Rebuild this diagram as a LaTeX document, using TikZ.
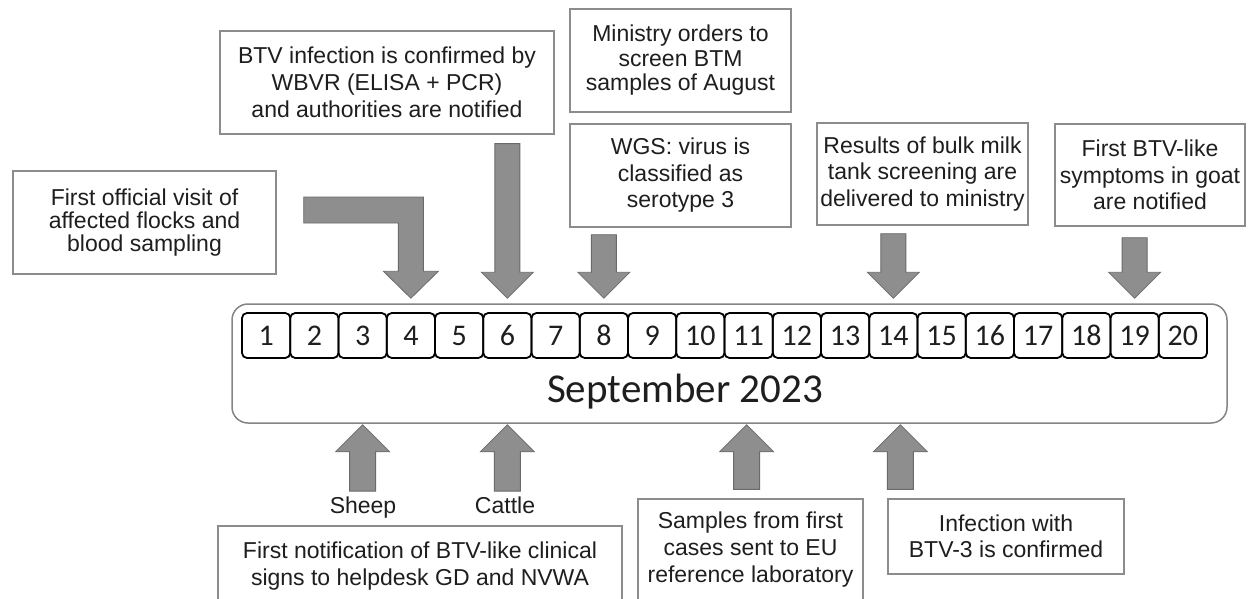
\documentclass[tikz,border=0pt]{standalone}
\usepackage{fontspec}
\setmainfont{Liberation Sans}
\newfontfamily\calib{Carlito}
\usetikzlibrary{calc}
\definecolor{boxgray}{HTML}{8C8C8C}
\definecolor{arrowfill}{HTML}{8E8E8E}
\definecolor{arrowedge}{HTML}{6A6A6A}
\definecolor{txt}{HTML}{1E1E1E}
\definecolor{rimgray}{HTML}{858585}
\newcommand\blkdown[2]{\draw[blk] ($(#1)+(-12.5,0)$) -- ($(#2)+(-12.5,-26)$) -- ($(#2)+(-26,-26)$) -- (#2) -- ($(#2)+(26,-26)$) -- ($(#2)+(12.5,-26)$) -- ($(#1)+(12.5,0)$) -- cycle;}
\newcommand\blkup[2]{\draw[blk] ($(#1)+(-13,0)$) -- ($(#2)+(-13,27)$) -- ($(#2)+(-27,27)$) -- (#2) -- ($(#2)+(27,27)$) -- ($(#2)+(13,27)$) -- ($(#1)+(13,0)$) -- cycle;}
\begin{document}
\begin{tikzpicture}[x=1pt,y=-1pt,
  evbox/.style={draw=boxgray, line width=1.3pt, fill=white, text=txt, align=center, inner sep=0pt},
  day/.style={draw=black, line width=1.8pt, rounded corners=5pt, minimum width=48.25pt, minimum height=45pt, inner sep=0pt, font=\calib\fontsize{30}{30}\selectfont, text=txt},
  blk/.style={fill=arrowfill, draw=arrowedge, line width=0.8pt, line join=miter},
  lbl/.style={text=txt, inner sep=0pt, font=\fontsize{23}{26}\selectfont}]
\clip (0,0) rectangle (1253,599);
\fill[white] (0,0) rectangle (1253,599);

% timeline
\node[draw=rimgray, line width=1.5pt, rounded corners=16pt, minimum width=995pt, minimum height=119pt, inner sep=0pt] (tl) at (729.5,363.5) {};
\foreach \i in {1,...,20} \node[day] (d\i) at ({242+48.25*(\i-0.5)},335.5) {\i};
\node[font=\calib\fontsize{41}{41}\selectfont, text=txt, anchor=base, inner sep=0pt] (sep) at (685,402) {September 2023};

% top event boxes
\node[evbox, minimum width=263pt, minimum height=103pt, font=\fontsize{23}{23}\selectfont] (A) at (144.5,222.5) {First official visit of\\affected flocks and\\blood sampling};
\node[evbox, minimum width=334pt, minimum height=103pt, font=\fontsize{23}{27}\selectfont] (B) at (387,82.5) {BTV infection is confirmed by\\WBVR (ELISA + PCR)\\and authorities are notified};
\node[evbox, minimum width=221pt, minimum height=103pt, font=\fontsize{23}{24.5}\selectfont] (C) at (680.5,60.5) {Ministry orders to\\screen BTM\\samples of August};
\node[evbox, minimum width=221pt, minimum height=103pt, font=\fontsize{23}{26.5}\selectfont] (D) at (680.5,175.5) {WGS: virus is\\classified as\\serotype 3};
\node[evbox, minimum width=211pt, minimum height=102pt, font=\fontsize{23}{26.5}\selectfont] (E) at (922.5,174) {Results of bulk milk\\tank screening are\\delivered to ministry};
\node[evbox, minimum width=190pt, minimum height=102pt, font=\fontsize{23}{26.5}\selectfont] (F) at (1150,175) {First BTV-like\\symptoms in goat\\are notified};

% bottom event boxes
\node[evbox, minimum width=404pt, minimum height=80pt, font=\fontsize{23}{27}\selectfont] (G) at (420,566) {First notification of BTV-like clinical\\signs to helpdesk GD and NVWA};
\node[evbox, minimum width=225pt, minimum height=101pt, font=\fontsize{23}{27}\selectfont] (H) at (750.5,549.5) {Samples from first\\cases sent to EU\\reference laboratory};
\node[evbox, minimum width=236pt, minimum height=75pt, font=\fontsize{23}{26.5}\selectfont] (I) at (1006,536.5) {Infection with\\BTV-3 is confirmed};

\node[lbl, anchor=base] (sheep) at (363,513) {Sheep};
\node[lbl, anchor=base] (cattle) at (505,513) {Cattle};

% arrow end points
\coordinate (e4) at ($(d4 |- tl.north)+(0,-5)$);
\coordinate (e6) at ($(d6 |- tl.north)+(0,-5)$);
\coordinate (e8) at ($(d8 |- tl.north)+(0,-5)$);
\coordinate (e14) at ($(d14 |- tl.north)+(0,-5)$);
\coordinate (e19) at ($(d19 |- tl.north)+(0,-5)$);
\coordinate (s6) at ($(d6 |- B.south)+(0,9)$);
\coordinate (s8) at ($(d8 |- D.south)+(0,7)$);
\coordinate (s14) at ($(d14 |- E.south)+(0,8)$);
\coordinate (s19) at ($(d19 |- F.south)+(0,11)$);
\coordinate (Lc) at ($(A.east)+(27,-12.5)$);

\coordinate (u3) at ($(d3 |- tl.south)+(0,1)$);
\coordinate (u6) at ($(d6 |- tl.south)+(0,1)$);
\coordinate (u11) at ($(d11 |- tl.south)+(-2,1)$);
\coordinate (u14) at ($(d14 |- tl.south)+(7,1)$);
\coordinate (b3) at ($(d3 |- sheep.north)+(0,-5)$);
\coordinate (b6) at ($(d6 |- cattle.north)+(0,-5)$);
\coordinate (b11) at ($(d11 |- H.north)+(-2,-9)$);
\coordinate (b14) at ($(d14 |- I.north)+(7,-9)$);

% down arrows
\draw[blk] ($(Lc)+(0,-13)$) -- ($(e4 |- Lc)+(12.5,-13)$) -- ($(e4)+(12.5,-27)$) -- ($(e4)+(27.5,-27)$) -- (e4) -- ($(e4)+(-27.5,-27)$) -- ($(e4)+(-12.5,-27)$) -- ($(e4 |- Lc)+(-12.5,13)$) -- ($(Lc)+(0,13)$) -- cycle;
\blkdown{s6}{e6}
\blkdown{s8}{e8}
\blkdown{s14}{e14}
\blkdown{s19}{e19}

% up arrows
\blkup{b3}{u3}
\blkup{b6}{u6}
\blkup{b11}{u11}
\blkup{b14}{u14}
\end{tikzpicture}
\end{document}
